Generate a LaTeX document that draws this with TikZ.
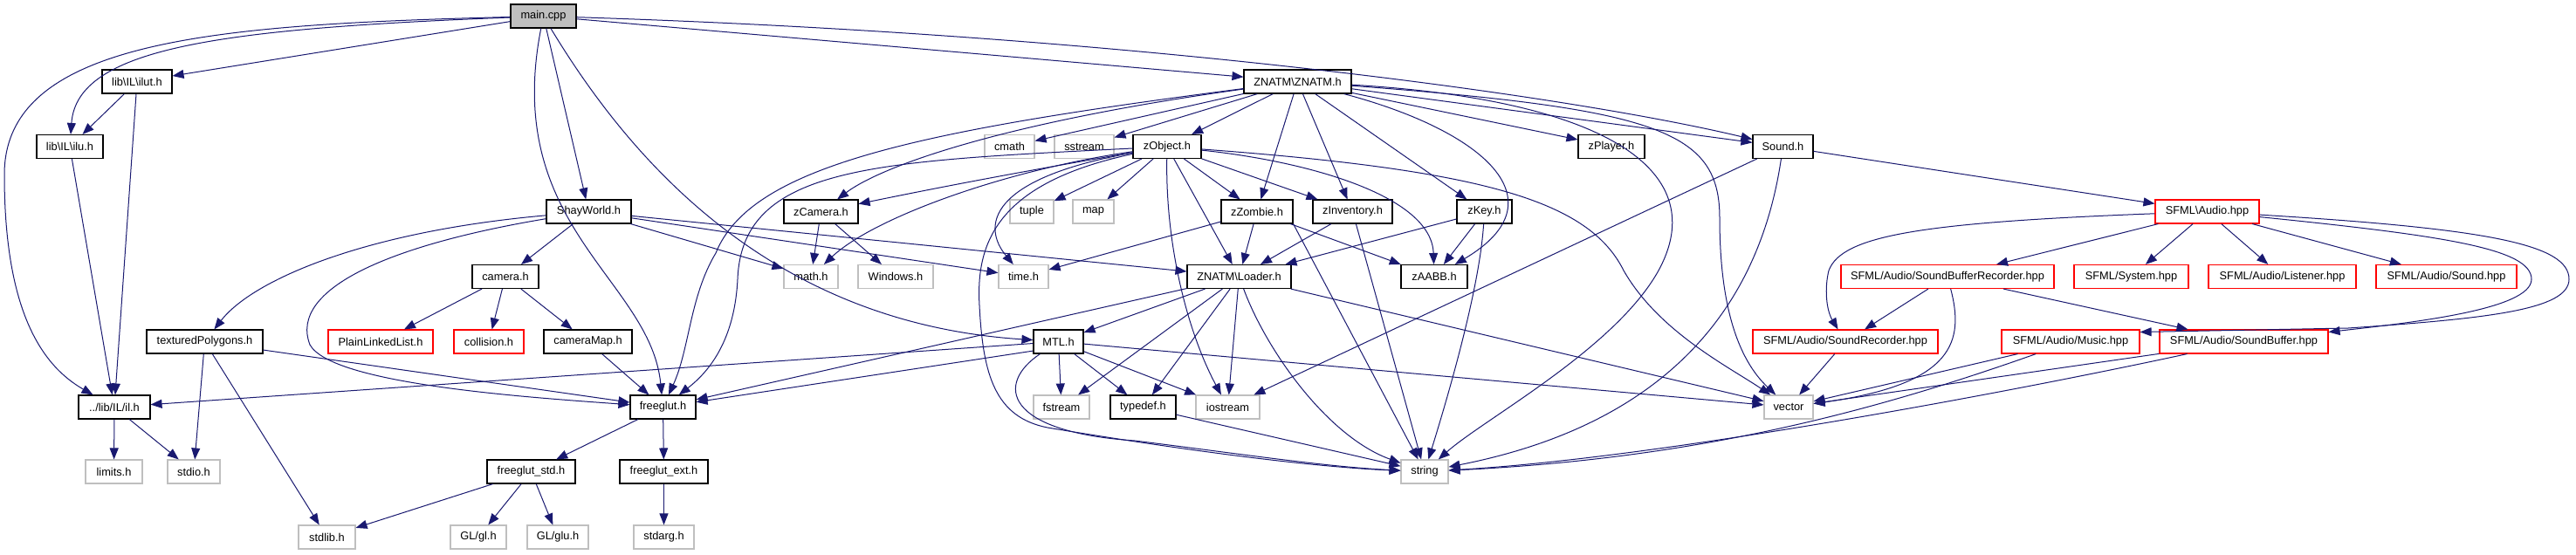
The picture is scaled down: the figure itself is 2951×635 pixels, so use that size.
\documentclass[tikz,border=0pt]{standalone}
\usepackage{fontspec}
\setmainfont{Liberation Sans}
\usepackage{xcolor}
\definecolor{edgeblue}{HTML}{191970}
\definecolor{sysgray}{HTML}{BFBFBF}
\definecolor{nodocred}{HTML}{FF0000}
\usepackage{tikz}
\usetikzlibrary{arrows.meta}

\begin{document}
\begin{tikzpicture}[
  x=1pt, y=-1pt,
  incfile/.style={rectangle, draw=black, fill=white, line width=1.1pt, minimum height=27pt, inner sep=0pt, font=\fontsize{12.8}{15}\selectfont},
  sysfile/.style={incfile, draw=sysgray},
  nodocfile/.style={incfile, draw=nodocred},
  rootfile/.style={incfile, fill=sysgray},
  inc/.style={-{Triangle[length=13pt, width=10pt]}, line width=1pt, edgeblue},
]
\path[use as bounding box, fill=white] (0,0) rectangle (2951,635);

\node[rootfile, minimum width=75pt] (main) at (622.5,18.5) {main.cpp};
\node[incfile, minimum width=80pt] (ilut) at (157,93.5) {lib\textbackslash IL\textbackslash ilut.h};
\node[incfile, minimum width=123pt] (ZNATM) at (1486.5,93.5) {ZNATM\textbackslash ZNATM.h};
\node[incfile, minimum width=76pt] (ilu) at (80,168) {lib\textbackslash IL\textbackslash ilu.h};
\node[sysfile, minimum width=57pt] (cmath) at (1156.5,168) {cmath};
\node[sysfile, minimum width=68pt] (sstream) at (1242,168) {sstream};
\node[incfile, minimum width=78pt] (zObject) at (1337,168) {zObject.h};
\node[incfile, minimum width=76pt] (zPlayer) at (1846,168) {zPlayer.h};
\node[incfile, minimum width=69pt] (Sound) at (2042.5,168) {Sound.h};
\node[incfile, minimum width=97pt] (ShayWorld) at (674.5,242.5) {ShayWorld.h};
\node[incfile, minimum width=85pt] (zCamera) at (940.5,242.5) {zCamera.h};
\node[sysfile, minimum width=50pt] (tuple) at (1182,242.5) {tuple};
\node[sysfile, minimum width=47pt] (map) at (1252.5,242.5) {map};
\node[incfile, minimum width=82pt] (zZombie) at (1440,242.5) {zZombie.h};
\node[incfile, minimum width=91pt] (zInventory) at (1549.5,242.5) {zInventory.h};
\node[incfile, minimum width=63pt] (zKey) at (1700.5,242.5) {zKey.h};
\node[nodocfile, minimum width=119pt] (Audio) at (2528.5,242.5) {SFML\textbackslash Audio.hpp};
\node[incfile, minimum width=76pt] (camera) at (579,317) {camera.h};
\node[sysfile, minimum width=62pt] (math) at (929,317) {math.h};
\node[sysfile, minimum width=86pt] (Windows) at (1026,317) {Windows.h};
\node[sysfile, minimum width=57pt] (time) at (1172.5,317) {time.h};
\node[incfile, minimum width=119pt] (Loader) at (1419.5,317) {ZNATM\textbackslash Loader.h};
\node[incfile, minimum width=76pt] (zAABB) at (1643,317) {zAABB.h};
\node[nodocfile, minimum width=244pt] (SBRecorder) at (2231,317) {SFML/Audio/SoundBufferRecorder.hpp};
\node[nodocfile, minimum width=131pt] (System) at (2441.5,317) {SFML/System.hpp};
\node[nodocfile, minimum width=169pt] (Listener) at (2614.5,317) {SFML/Audio/Listener.hpp};
\node[nodocfile, minimum width=161pt] (SoundHpp) at (2802.5,317) {SFML/Audio/Sound.hpp};
\node[incfile, minimum width=133pt] (textured) at (234.5,391.5) {texturedPolygons.h};
\node[nodocfile, minimum width=120pt] (PlainLL) at (436,391.5) {PlainLinkedList.h};
\node[nodocfile, minimum width=80pt] (collision) at (560,391.5) {collision.h};
\node[incfile, minimum width=101pt] (cameraMap) at (673.5,391.5) {cameraMap.h};
\node[incfile, minimum width=57pt] (MTL) at (1212.5,391.5) {MTL.h};
\node[nodocfile, minimum width=212pt] (SoundRecorder) at (2114,391.5) {SFML/Audio/SoundRecorder.hpp};
\node[nodocfile, minimum width=158pt] (Music) at (2372,391.5) {SFML/Audio/Music.hpp};
\node[nodocfile, minimum width=193pt] (SoundBuffer) at (2570.5,391.5) {SFML/Audio/SoundBuffer.hpp};
\node[incfile, minimum width=82pt] (il) at (131,466.5) {../lib/IL/il.h};
\node[incfile, minimum width=75pt] (freeglut) at (759.5,466.5) {freeglut.h};
\node[sysfile, minimum width=64pt] (fstream) at (1216,466.5) {fstream};
\node[incfile, minimum width=75pt] (typedef) at (1309.5,466.5) {typedef.h};
\node[sysfile, minimum width=73pt] (iostream) at (1406.5,466.5) {iostream};
\node[sysfile, minimum width=56pt] (vector) at (2049,466.5) {vector};
\node[sysfile, minimum width=65pt] (limits) at (130.5,540.5) {limits.h};
\node[sysfile, minimum width=60pt] (stdio) at (222,540.5) {stdio.h};
\node[incfile, minimum width=101pt] (freeglutstd) at (608.5,540.5) {freeglut\_std.h};
\node[incfile, minimum width=101pt] (freeglutext) at (760.5,540.5) {freeglut\_ext.h};
\node[sysfile, minimum width=54pt] (string) at (1632,540.5) {string};
\node[sysfile, minimum width=65pt] (stdlib) at (374.5,615.5) {stdlib.h};
\node[sysfile, minimum width=64pt] (gl) at (548,615.5) {GL/gl.h};
\node[sysfile, minimum width=70pt] (glu) at (639,615.5) {GL/glu.h};
\node[sysfile, minimum width=69pt] (stdarg) at (760.5,615.5) {stdarg.h};

\draw[inc] (main) .. controls (250,28) and (5,45) .. (5,200) .. controls (5,360) and (50,420) .. (il);
\draw[inc] (main) .. controls (250,33) and (88,55) .. (ilu);
\draw[inc] (main) -- (ilut);
\draw[inc] (main) -- (ShayWorld);
\draw[inc] (main) .. controls (575,260) and (745,320) .. (freeglut);
\draw[inc] (main) .. controls (720,180) and (880,370) .. (MTL);
\draw[inc] (main) -- (ZNATM);
\draw[inc] (main) .. controls (1300,40) and (1800,110) .. (Sound);

\draw[inc] (ilut) -- (ilu);
\draw[inc] (ilut) -- (il);
\draw[inc] (ilu) -- (il);
\draw[inc] (il) -- (limits);
\draw[inc] (il) -- (stdio);

\draw[inc] (ZNATM) .. controls (1050,150) and (860,190) .. (820,290) .. controls (790,340) and (790,400) .. (freeglut);
\draw[inc] (ZNATM) .. controls (1150,140) and (1010,190) .. (zCamera);
\draw[inc] (ZNATM) -- (cmath);
\draw[inc] (ZNATM) -- (sstream);
\draw[inc] (ZNATM) -- (zObject);
\draw[inc] (ZNATM) -- (zZombie);
\draw[inc] (ZNATM) -- (zInventory);
\draw[inc] (ZNATM) -- (zKey);
\draw[inc] (ZNATM) .. controls (1700,150) and (1790,230) .. (zAABB);
\draw[inc] (ZNATM) -- (zPlayer);
\draw[inc] (ZNATM) -- (Sound);
\draw[inc] (ZNATM) .. controls (1850,115) and (1960,200) .. (1900,310) .. controls (1850,400) and (1700,480) .. (string);
\draw[inc] (ZNATM) .. controls (1900,125) and (1970,150) .. (1970,250) .. controls (1970,370) and (2000,420) .. (vector);

\draw[inc] (zObject) -- (tuple);
\draw[inc] (zObject) -- (map);
\draw[inc] (zObject) -- (zZombie);
\draw[inc] (zObject) -- (Loader);
\draw[inc] (zObject) .. controls (1335,280) and (1360,380) .. (iostream);
\draw[inc] (zObject) .. controls (1140,210) and (1118,280) .. (1122,350) .. controls (1126,430) and (1140,478) .. (1200,490) .. controls (1350,515) and (1500,535) .. (string);
\draw[inc] (zObject) .. controls (1130,205) and (1125,260) .. (time);
\draw[inc] (zObject) .. controls (1150,195) and (1000,250) .. (math);
\draw[inc] (zObject) .. controls (1150,200) and (1050,220) .. (zCamera);
\draw[inc] (zObject) .. controls (1000,185) and (850,190) .. (845,320) .. controls (842,380) and (820,420) .. (freeglut);
\draw[inc] (zObject) .. controls (1700,195) and (1820,230) .. (1860,310) .. controls (1900,380) and (1980,420) .. (vector);
\draw[inc] (zObject) .. controls (1500,185) and (1640,225) .. (zAABB);
\draw[inc] (zObject) -- (zInventory);

\draw[inc] (zZombie) -- (Loader);
\draw[inc] (zZombie) -- (time);
\draw[inc] (zZombie) -- (zAABB);
\draw[inc] (zZombie.south east) -- (string);
\draw[inc] (zInventory) -- (Loader);
\draw[inc] (zInventory) -- (string);
\draw[inc] (zKey) -- (Loader);
\draw[inc] (zKey) -- (zAABB);
\draw[inc] (zKey) .. controls (1695,330) and (1660,450) .. (string);
\draw[inc] (zCamera) -- (math);
\draw[inc] (zCamera) -- (Windows);

\draw[inc] (ShayWorld) -- (camera);
\draw[inc] (ShayWorld) -- (math);
\draw[inc] (ShayWorld) -- (Loader);
\draw[inc] (ShayWorld) -- (time);
\draw[inc] (ShayWorld) .. controls (420,265) and (290,320) .. (textured);
\draw[inc] (ShayWorld) .. controls (450,280) and (330,330) .. (355,395) .. controls (380,440) and (600,455) .. (freeglut);
\draw[inc] (camera) -- (PlainLL);
\draw[inc] (camera) -- (collision);
\draw[inc] (camera) -- (cameraMap);
\draw[inc] (cameraMap) -- (freeglut);
\draw[inc] (textured) -- (stdio);
\draw[inc] (textured) -- (stdlib);
\draw[inc] (textured) -- (freeglut);

\draw[inc] (Loader) -- (MTL);
\draw[inc] (Loader) -- (fstream);
\draw[inc] (Loader) -- (typedef);
\draw[inc] (Loader) -- (iostream);
\draw[inc] (Loader) .. controls (1450,400) and (1520,500) .. (string);
\draw[inc] (Loader) -- (freeglut);
\draw[inc] (Loader) -- (vector);
\draw[inc] (MTL) -- (fstream);
\draw[inc] (MTL) -- (typedef);
\draw[inc] (MTL) -- (iostream);
\draw[inc] (MTL) .. controls (1140,440) and (1150,495) .. (1300,505) .. controls (1420,520) and (1520,535) .. (string);
\draw[inc] (MTL) -- (il);
\draw[inc] (MTL.200) -- (freeglut);
\draw[inc] (MTL) -- (vector);
\draw[inc] (typedef) -- (string);

\draw[inc] (freeglut) -- (freeglutstd);
\draw[inc] (freeglut) -- (freeglutext);
\draw[inc] (freeglutstd) -- (gl);
\draw[inc] (freeglutstd) -- (glu);
\draw[inc] (freeglutstd) -- (stdlib);
\draw[inc] (freeglutext) -- (stdarg);

\draw[inc] (Sound) -- (Audio);
\draw[inc] (Sound) -- (iostream);
\draw[inc] (Sound) .. controls (2020,320) and (1940,480) .. (string);
\draw[inc] (Audio) -- (SBRecorder);
\draw[inc] (Audio) .. controls (2200,255) and (2110,270) .. (2095,310) .. controls (2090,330) and (2092,355) .. (SoundRecorder);
\draw[inc] (Audio) -- (System);
\draw[inc] (Audio) -- (Listener);
\draw[inc] (Audio) -- (SoundHpp);
\draw[inc] (Audio) .. controls (2800,270) and (2900,285) .. (2900,320) .. controls (2900,355) and (2760,370) .. (SoundBuffer);
\draw[inc] (Audio) .. controls (2850,262) and (2943,280) .. (2943,320) .. controls (2943,355) and (2850,365) .. (2690,376) -- ([yshift=11pt]Music.east);
\draw[inc] (SBRecorder) -- (SoundRecorder);
\draw[inc] (SBRecorder) .. controls (2250,390) and (2240,440) .. (vector);
\draw[inc] (SBRecorder) -- (SoundBuffer);
\draw[inc] (SoundRecorder) -- (vector);
\draw[inc] (Music) -- (vector);
\draw[inc] (Music) .. controls (2150,470) and (1950,525) .. (string);
\draw[inc] (SoundBuffer) -- (vector);
\draw[inc] (SoundBuffer) .. controls (2300,450) and (1900,525) .. (string);

\end{tikzpicture}
\end{document}
